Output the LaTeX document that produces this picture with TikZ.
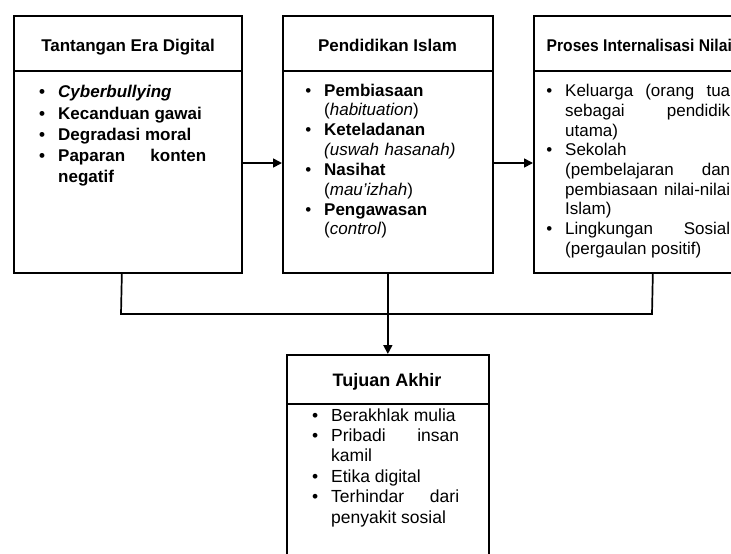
\documentclass[tikz,border=0pt]{standalone}
\usepackage{fontspec}
\usepackage{graphicx}
\setmainfont{Liberation Sans}
\usetikzlibrary{arrows.meta,calc}
\newcommand{\nohy}{\hyphenpenalty=10000 \exhyphenpenalty=10000 \tolerance=10000 \hbadness=10000 \hfuzz=5pt \parindent=0pt }
\newcommand{\bul}{\leavevmode\llap{\textbullet\hspace{13pt}}}
\begin{document}
\begin{tikzpicture}[x=1pt,y=-1pt,
  frame/.style={draw=black, line width=1.7pt, rectangle, inner sep=0pt, anchor=north west},
  hdr/.style={inner sep=0pt, anchor=base, font=\bfseries\fontsize{17}{20}\selectfont},
  body/.style={inner sep=0pt, anchor=base west, align=justify},
  conn/.style={line width=1.7pt, draw=black},
  arr/.style={conn, -{Triangle[length=9pt,width=9pt]}}]
\useasboundingbox (0,0) rectangle (731,554);
\fill[white] (0,0) rectangle (731,554);
\clip (0,0) rectangle (731,554);
% boxes
\node[frame, minimum width=228pt, minimum height=257pt] (b1) at (13,15) {};
\node[frame, minimum width=210pt, minimum height=257pt] (b2) at (282,15) {};
\node[frame, minimum width=238pt, minimum height=257pt] (b3) at (533,15) {};
\node[frame, minimum width=202pt, minimum height=260pt] (b4) at (286,354) {};
% header dividers
\draw[conn] (b1.west |- 0,71) -- (b1.east |- 0,71);
\draw[conn] (b2.west |- 0,71) -- (b2.east |- 0,71);
\draw[conn] (b3.west |- 0,71) -- (b3.east |- 0,71);
\draw[conn] (b4.west |- 0,404) -- (b4.east |- 0,404);
% headers
\node[hdr] (h1) at (128,51.5) {Tantangan Era Digital};
\node[hdr] (h2) at (387.5,51.5) {Pendidikan Islam};
\node[hdr, anchor=base west] (h3) at (546.5,51.5) {\scalebox{0.92}[1]{Proses Internalisasi Nilai}};
\node[hdr, font=\bfseries\fontsize{18}{20}\selectfont] (h4) at (387,386) {Tujuan Akhir};
% bodies
\node[body, text width=148pt, font=\bfseries\fontsize{17}{21.3}\selectfont\nohy] (t1) at (58,97.7) {%
\bul\textit{Cyberbullying}\par
\bul Kecanduan gawai\par
\bul Degradasi moral\par
\bul Paparan konten\linebreak negatif};
\node[body, align=left, text width=160pt, font=\fontsize{17}{19.85}\selectfont\nohy] (t2) at (324,96) {%
\bul\textbf{Pembiasaan}\newline (\textit{habituation})\par
\bul\textbf{Keteladanan}\newline \textit{(uswah hasanah)}\par
\bul\textbf{Nasihat}\newline (\textit{mau’izhah})\par
\bul\textbf{Pengawasan}\newline (\textit{control})};
\node[body, text width=165pt, font=\fontsize{17}{19.7}\selectfont\nohy] (t3) at (565,96.7) {%
\bul Keluarga (orang tua\linebreak sebagai pendidik\linebreak utama)\par
\bul Sekolah\newline (pembelajaran dan\linebreak pembiasaan nilai-nilai\linebreak Islam)\par
\bul Lingkungan Sosial\linebreak (pergaulan positif)};
\node[body, text width=128pt, font=\fontsize{17.5}{20.4}\selectfont\nohy] (t4) at (331,421) {%
\bul Berakhlak mulia\par
\bul Pribadi insan\linebreak kamil\par
\bul Etika digital\par
\bul Terhindar dari\linebreak penyakit sosial};
% connectors
\draw[arr] (b1.east |- 0,163) -- (b2.west |- 0,163);
\draw[arr] (b2.east |- 0,163) -- (b3.west |- 0,163);
\coordinate (jl) at (121,314);
\coordinate (jr) at (652,314);
\draw[conn] ([xshift=-6pt]b1.south) -- (jl) -- (jr) -- (b3.south);
\draw[arr] (b2.south) -- (b4.north);
\end{tikzpicture}
\end{document}
